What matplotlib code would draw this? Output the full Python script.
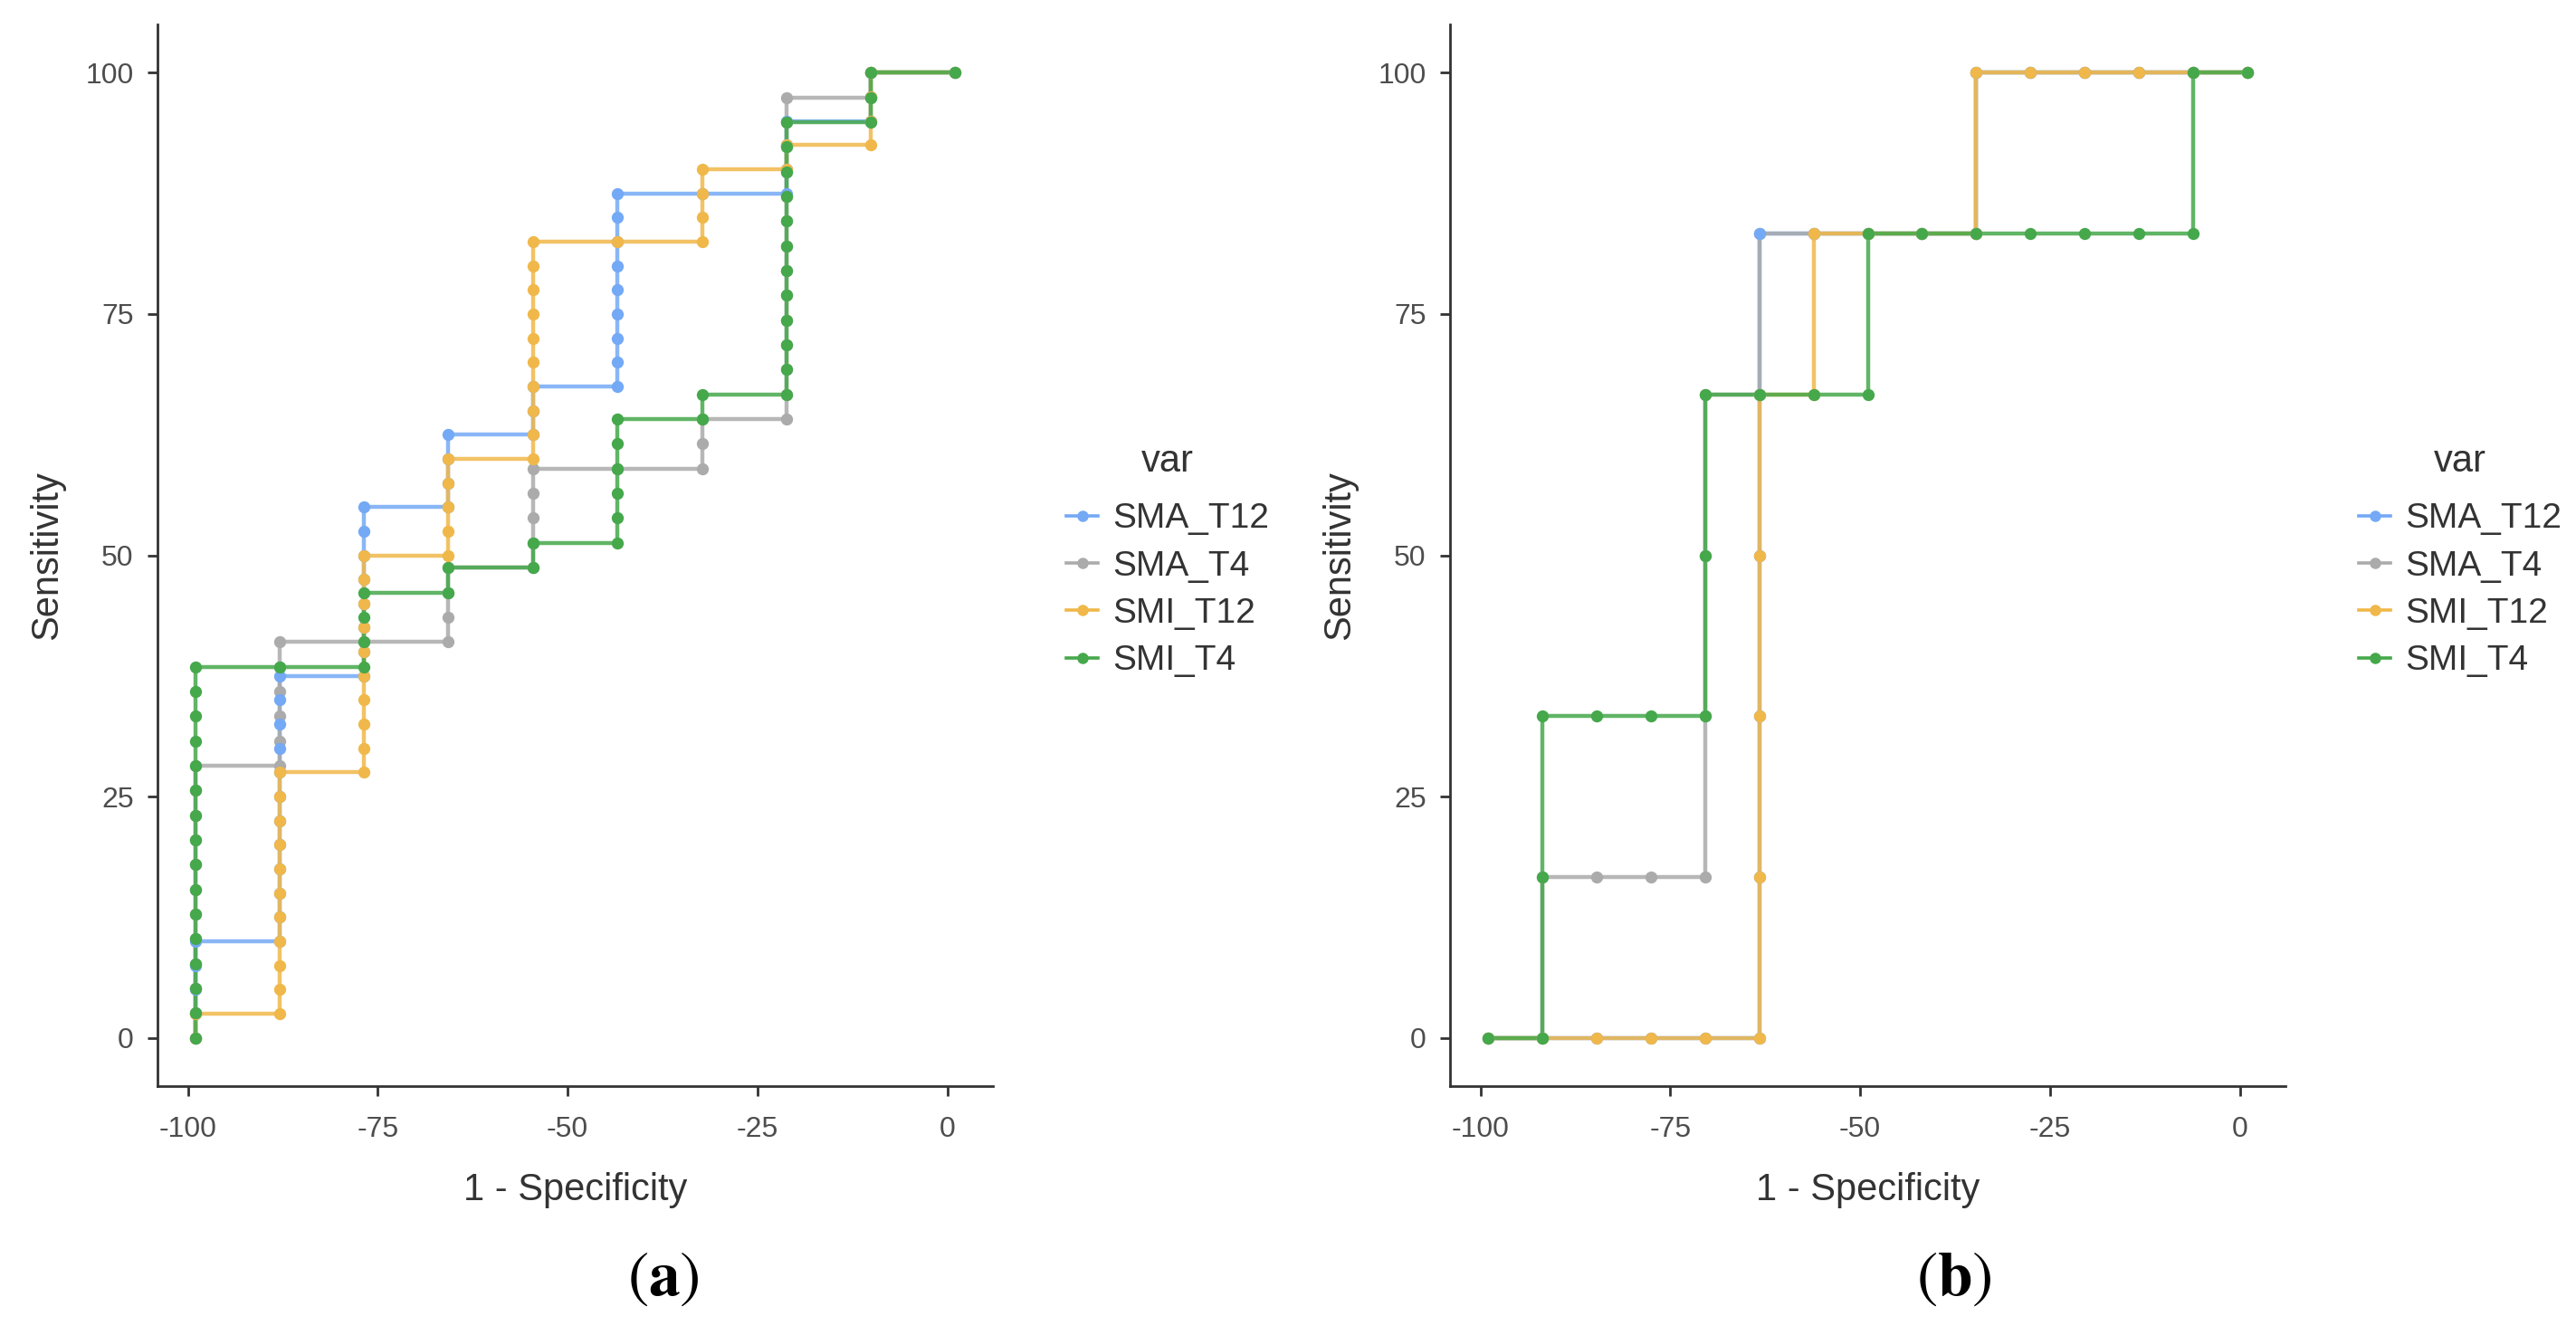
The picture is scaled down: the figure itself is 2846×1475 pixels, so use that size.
import numpy as np
import matplotlib.pyplot as plt
from matplotlib.lines import Line2D

plt.rcParams['font.family'] = ['Liberation Sans', 'DejaVu Sans']
plt.rcParams['axes.unicode_minus'] = False
plt.rcParams['mathtext.fontset'] = 'stix'

series_names = ['SMA_T12', 'SMA_T4', 'SMI_T12', 'SMI_T4']
series_colors = ['#74A9F5', '#ABABAB', '#F0B84A', '#45A84B']

# panel (a): x grid (1 - specificity) and cumulative sensitivity counts per column
x_a = [-99.0, -87.9, -76.8, -65.7, -54.6, -43.4, -32.3, -21.2, -10.1, 1.0]
n_a = [40, 39, 40, 39]
sma_t12_a = [4, 15, 22, 25, 27, 35, 35, 38, 40, 40]
sma_t4_a = [11, 16, 16, 19, 23, 23, 25, 38, 39, 39]
smi_t12_a = [1, 11, 20, 24, 33, 33, 36, 37, 40, 40]
smi_t4_a = [15, 15, 18, 19, 20, 25, 26, 37, 39, 39]

# panel (b)
x_b = [-99.0, -91.9, -84.7, -77.6, -70.4, -63.3, -56.1, -49.0,
       -41.9, -34.7, -27.6, -20.4, -13.3, -6.1, 1.0]
n_b = [6, 6, 6, 6]
sma_t12_b = [0, 0, 0, 0, 0, 5, 5, 5, 5, 6, 6, 6, 6, 6, 6]
sma_t4_b = [0, 1, 1, 1, 4, 5, 5, 5, 5, 6, 6, 6, 6, 6, 6]
smi_t12_b = [0, 0, 0, 0, 0, 4, 5, 5, 5, 6, 6, 6, 6, 6, 6]
smi_t4_b = [0, 2, 2, 2, 4, 4, 4, 5, 5, 5, 5, 5, 5, 6, 6]


def roc_path(xs, tops, n):
    # walk each column: horizontal step in, then up one case at a time
    px, py = [], []
    prev = 0
    for x, top in zip(xs, tops):
        for c in range(prev, top + 1):
            px.append(x)
            py.append(100.0 * c / n)
        prev = top
    return px, py


fig = plt.figure(figsize=(14.23, 7.375), dpi=200)
W, H = 2846, 1475

panels = [
    (174, x_a, [sma_t12_a, sma_t4_a, smi_t12_a, smi_t4_a], n_a, 'a'),
    (1602, x_b, [sma_t12_b, sma_t4_b, smi_t12_b, smi_t4_b], n_b, 'b'),
]

line_z = [2, 3, 4, 5]
point_z = [7, 6, 8, 9]

for left_px, xs, tops_list, ns, tag in panels:
    ax = fig.add_axes([left_px / W, 1 - 1200 / H, 923 / W, (1200 - 27) / H])
    for i, (tops, n) in enumerate(zip(tops_list, ns)):
        px, py = roc_path(xs, tops, n)
        ax.plot(px, py, color=series_colors[i], lw=1.6, alpha=0.85, zorder=line_z[i])
        ax.plot(px, py, 'o', color=series_colors[i], ms=4.8, mew=0, zorder=point_z[i])

    ax.set_xlim(-104, 6)
    ax.set_ylim(-5, 105)
    ax.set_xticks([-100, -75, -50, -25, 0])
    ax.set_yticks([0, 25, 50, 75, 100])
    for s in ['top', 'right']:
        ax.spines[s].set_visible(False)
    for s in ['left', 'bottom']:
        ax.spines[s].set_linewidth(1.0)
        ax.spines[s].set_color('#333333')
    ax.tick_params(axis='both', length=4, width=1.0, color='#333333',
                   labelsize=11.5, labelcolor='#4D4D4D')
    ax.tick_params(axis='x', pad=8)
    ax.tick_params(axis='y', pad=5.5)
    ax.set_xlabel('1 - Specificity', fontsize=15, color='#333333', labelpad=11.5)
    ax.set_ylabel('Sensitivity', fontsize=15, color='#333333', labelpad=8)

    handles = [Line2D([0], [0], color=c, lw=1.3, marker='o', ms=4.5, mew=0)
               for c in series_colors]
    leg = ax.legend(handles, series_names, title='var', loc='center left',
                    bbox_to_anchor=(1.067, 0.495), frameon=False, fontsize=14,
                    title_fontsize=15, borderpad=0, handlelength=0.9,
                    handletextpad=0.4, labelspacing=0.42)
    leg._legend_box.sep = 9
    for t in leg.get_texts():
        t.set_color('#333333')
    leg.get_title().set_color('#333333')

    cx = 733 if tag == 'a' else 2159
    fig.text(cx / W, 1 - 1413 / H, r'$(\mathbf{%s})$' % tag, ha='center', va='center',
             fontsize=25, color='black')

fig.savefig('out.png', dpi=200, facecolor='white')
